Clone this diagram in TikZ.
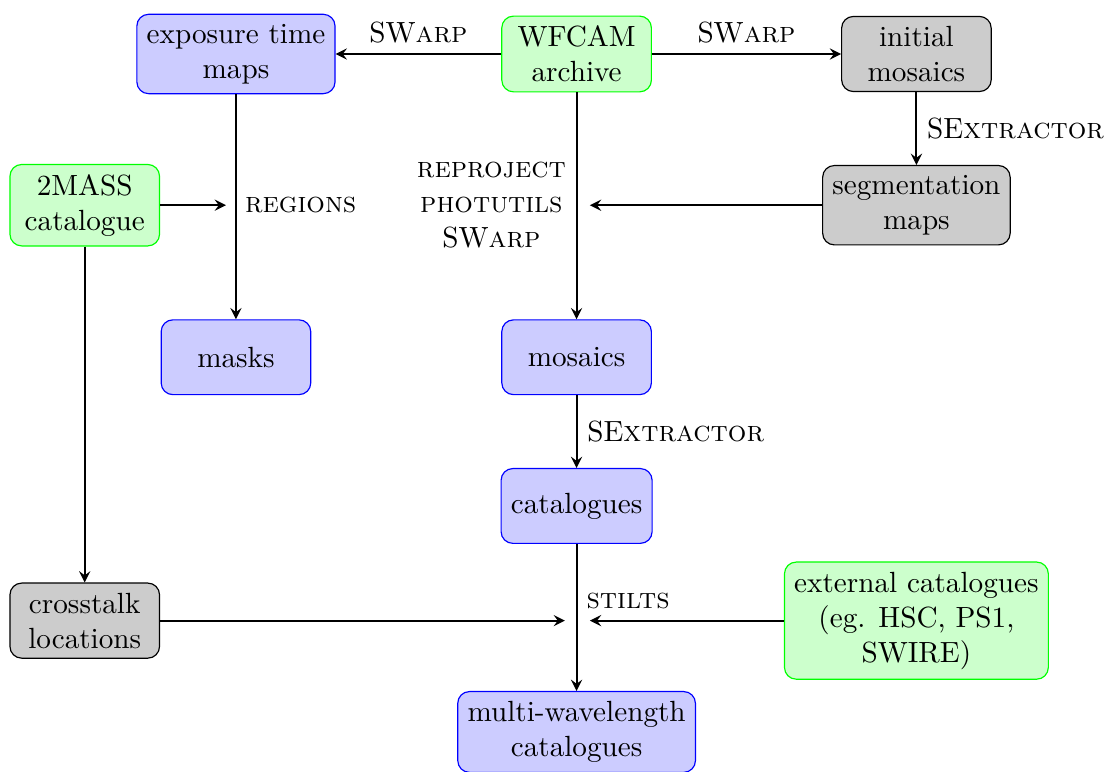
\documentclass[tikz,border=0pt]{standalone}
\usepackage{amssymb,amsmath}
\usepackage{tikz}

\begin{document}
\begin{tikzpicture}[>=stealth, line width=0.7pt,
		bluebox/.style={draw=blue, thin, fill=blue!20, rounded corners, align=center, minimum width=1.8cm, minimum height=0.9cm},
		greenbox/.style={draw=green, thin, fill=green!20, rounded corners, align=center, minimum width=1.8cm, minimum height=0.9cm},
		greybox/.style={draw=black, thin, fill=black!20, rounded corners, align=center, minimum width=1.8cm, minimum height=0.9cm}]
		\useasboundingbox (0,0) rectangle (13.36,-9.28);
		% inputs
		\node[greenbox] (wfcam) at (6.94,-0.65) {WFCAM\\archive};
		\node[greenbox] (twomass) at (1.02,-2.47) {2MASS\\catalogue};
		\node[greenbox] (extcat) at (11.03,-7.47) {external catalogues\\(eg. HSC, PS1,\\SWIRE)};
		% intermediate products
		\node[greybox] (initmos) at (11.03,-0.65) {initial\\mosaics};
		\node[greybox] (segmap) at (11.03,-2.47) {segmentation\\maps};
		\node[greybox] (xtalk) at (1.02,-7.47) {crosstalk\\locations};
		% outputs
		\node[bluebox] (exptime) at (2.84,-0.65) {exposure time\\maps};
		\node[bluebox] (masks) at (2.84,-4.30) {masks};
		\node[bluebox] (mosaics) at (6.94,-4.30) {mosaics};
		\node[bluebox] (cats) at (6.94,-6.09) {catalogues};
		\node[bluebox] (multi) at (6.94,-8.81) {multi-wavelength\\catalogues};
		% junctions
		\coordinate (regin) at (2.72,-2.47);
		\coordinate (segin) at (7.10,-2.47);
		\coordinate (xtin) at (6.80,-7.47);
		\coordinate (extin) at (7.10,-7.47);
		% arrows from archive
		\draw[->] (wfcam) -- (exptime) node[midway,above] {SW\textsc{arp}};
		\draw[->] (wfcam) -- (initmos) node[midway,above] {SW\textsc{arp}};
		\draw[->] (initmos) -- (segmap) node[midway,right] {SE\textsc{xtractor}};
		\draw[->] (wfcam) -- (mosaics);
		\draw[->] (segmap) -- (segin);
		\node[align=center, anchor=east] (tools) at (6.94,-2.47) {\textsc{reproject}\\\textsc{photutils}\\SW\textsc{arp}};
		% masks
		\draw[->] (exptime) -- (masks);
		\draw[->] (twomass) -- (regin);
		\node[anchor=west] (regions) at (2.82,-2.47) {\textsc{regions}};
		\draw[->] (twomass) -- (xtalk);
		% catalogues
		\draw[->] (mosaics) -- (cats) node[midway,right] {SE\textsc{xtractor}};
		\draw[->] (cats) -- (multi);
		\draw[->] (xtalk) -- (xtin);
		\draw[->] (extcat) -- (extin);
		\node (stilts) at (7.56,-7.23) {\textsc{stilts}};
	\end{tikzpicture}
\end{document}
